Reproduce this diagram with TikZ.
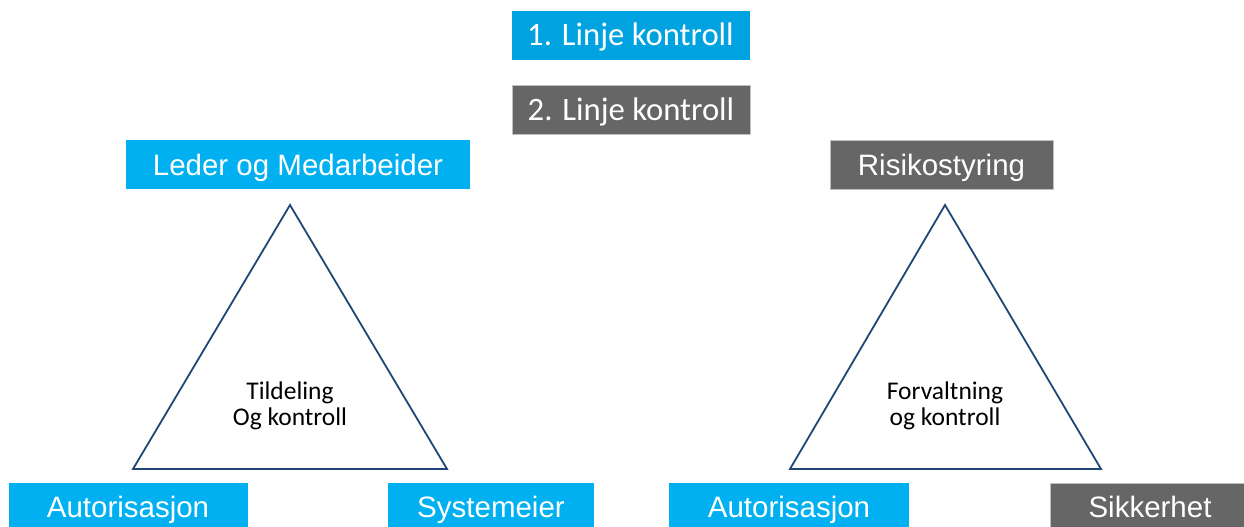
\documentclass[tikz,border=0pt]{standalone}
\usepackage{fontspec}
\setmainfont{Liberation Sans}
\newfontfamily\calib{Carlito}
\definecolor{cyanbox}{HTML}{00B0F0}
\definecolor{cyandark}{HTML}{00A3E0}
\definecolor{greybox}{HTML}{666666}
\definecolor{greyedge}{HTML}{BFBFBF}
\definecolor{navy}{HTML}{1F4675}
\tikzset{
  box/.style={inner sep=0pt, text=white, anchor=center, text height=22pt, text depth=1pt},
  bluebox/.style={box, fill=cyanbox, font=\fontsize{29.5}{34}\selectfont},
  greybig/.style={box, fill=greybox, draw=greyedge, line width=1pt, font=\fontsize{29.5}{34}\selectfont},
  headbox/.style={box, minimum width=238, minimum height=49, font=\calib\fontsize{32.7}{38}\selectfont},
  tri/.style={draw=navy, line width=1.8pt, line join=miter},
  trilabel/.style={align=center, font=\calib\fontsize{25.5}{26}\selectfont, text=black}
}
\begin{document}
\begin{tikzpicture}[x=1pt, y=-1pt]
\useasboundingbox (0,0) rectangle (1244,527);
\clip (0,0) rectangle (1244,527);

% header boxes
\node[headbox, fill=cyandark] (l1) at (630.5,35.5) {1. Linje kontroll};
\node[headbox, fill=greybox, draw=greyedge, line width=1pt] (l2) at (631,110) {2. Linje kontroll};

% apex labels
\node[bluebox, minimum width=344, minimum height=49] (leder) at (298,164.5) {Leder og Medarbeider};
\node[greybig, minimum width=223, minimum height=49] (risiko) at (941.5,164.5) {Risikostyring};

% left triangle
\coordinate (la) at (290,205);
\coordinate (lb) at (133,469);
\coordinate (lc) at (447,469);
\draw[tri] (la) -- (lb) -- (lc) -- cycle;
\node[trilabel] (ltext) at (290,406) {Tildeling\\Og kontroll};

% right triangle
\coordinate (ra) at (945,205);
\coordinate (rb) at (790,469);
\coordinate (rc) at (1101,469);
\draw[tri] (ra) -- (rb) -- (rc) -- cycle;
\node[trilabel] (rtext) at (945,406) {Forvaltning\\og kontroll};

% bottom labels
\node[bluebox, minimum width=239, minimum height=48] (aut1) at (128,507) {Autorisasjon};
\node[bluebox, minimum width=206, minimum height=48] (sys) at (491,507) {Systemeier};
\node[bluebox, minimum width=240, minimum height=48] (aut2) at (789,507) {Autorisasjon};
\node[greybig, minimum width=199, minimum height=48] (sik) at (1150,507) {Sikkerhet};
\end{tikzpicture}
\end{document}
